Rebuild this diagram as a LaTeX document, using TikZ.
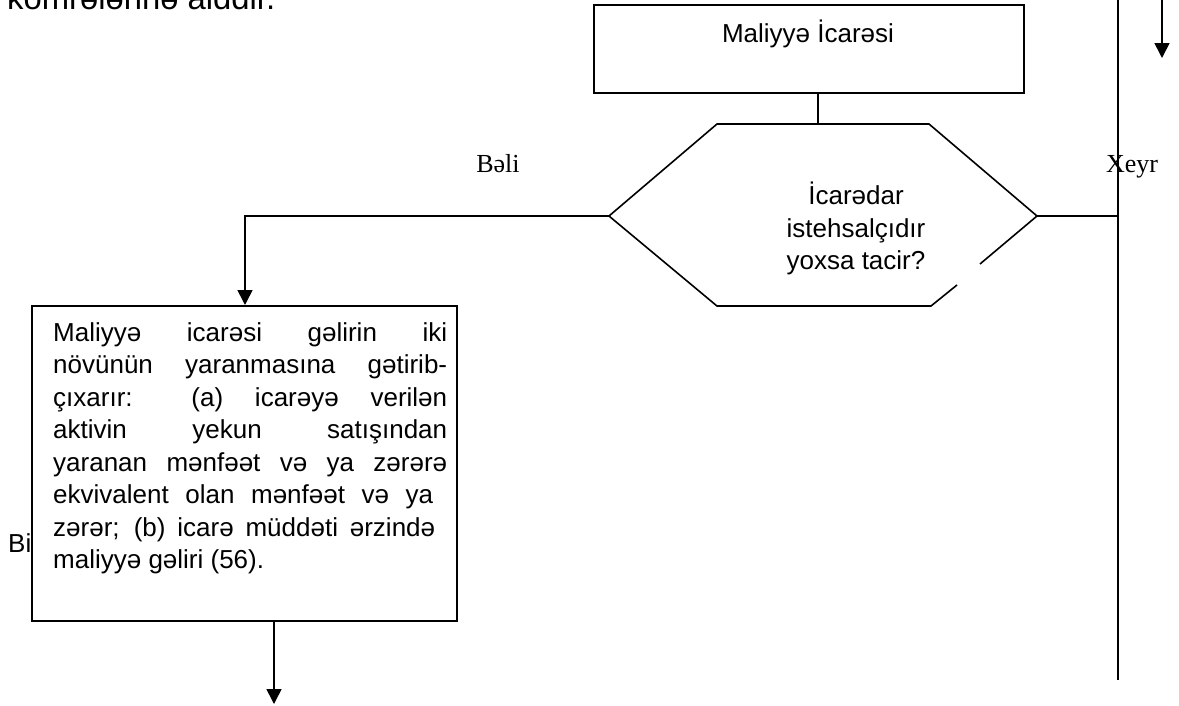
\documentclass[tikz,border=0pt]{standalone}
\usepackage{fontspec}
\setmainfont{Liberation Serif}
\newfontfamily\arialf{Liberation Sans}
\usetikzlibrary{arrows.meta}
\begin{document}
\begin{tikzpicture}[x=1pt,y=-1pt,
  boxst/.style={draw, line width=2pt, inner sep=0pt},
  conn/.style={line width=1.6pt},
  arr/.style={conn, -{Triangle[length=15pt,width=15pt]}},
  sans/.style={font=\arialf\fontsize{26}{32.5}\selectfont, inner sep=0pt},
  serif/.style={font=\fontsize{26}{32.5}\selectfont, inner sep=0pt}]
\useasboundingbox (0,0) rectangle (1179,705);
\begin{scope}
\clip (0,0) rectangle (1179,705);
\node[font=\arialf\fontsize{32.8}{40}\selectfont, inner sep=0pt, anchor=base west] (prev) at (7,9) {kömrələrinə aiddir.};
\end{scope}

% top box
\node[boxst, minimum width=430pt, minimum height=88pt] (top) at (809,49) {};
\node[sans, anchor=base] (toptxt) at (808,42) {Maliyyə İcarəsi};

% hexagon decision
\coordinate (hl) at (609,216);
\coordinate (hr) at (1037,216);
\coordinate (ht) at (818,124);
\draw[conn, line join=miter] (957,285) -- (931,306) -- (717,306) -- (hl) -- (717,124) -- (929,124) -- (hr) -- (980,264);
\node[sans, anchor=north, align=center] (htxt) at (856,182) {İcarədar\\istehsalçıdır\\yoxsa tacir?};
\draw[conn] (top.south -| ht) -- (ht);

% labels
\node[serif, anchor=base] (beli) at (498,172) {Bəli};
\node[serif, anchor=base] (xeyr) at (1132,172) {Xeyr};

% left box
\node[boxst, minimum width=425pt, minimum height=315pt] (lb) at (244.5,463.5) {};
\node[sans, anchor=north west] (ltxt) at (53,322) {\parbox[t]{394pt}{\tolerance=10000\hyphenpenalty=10000\hbadness=10000
Maliyyə icarəsi gəlirin iki\linebreak
növünün yaranmasına gətirib-\linebreak
çıxarır: (a) icarəyə verilən\linebreak
aktivin yekun satışından\linebreak
yaranan mənfəət və ya zərərə\linebreak
ekvivalent olan mənfəət və ya\hspace*{14pt}\linebreak
zərər; (b) icarə müddəti ərzində\hspace*{12pt}\linebreak
maliyyə gəliri (56).}};
\node[sans, anchor=base west] (bi) at (8,552) {Bi};

\coordinate (lcorner) at (245,216);
\draw[arr] (hl) -- (lcorner) -- (lcorner |- lb.north);
\coordinate (bend) at (274,704);
\draw[arr] (lb.south -| bend) -- (bend);

% right side
\coordinate (vtop) at (1118,0);
\coordinate (vbot) at (1118,680);
\draw[conn] (vtop) -- (vbot);
\draw[conn] (hr) -- (hr -| vtop);
\coordinate (atop) at (1162,0);
\coordinate (atip) at (1162,58);
\draw[arr] (atop) -- (atip);
\end{tikzpicture}
\end{document}
